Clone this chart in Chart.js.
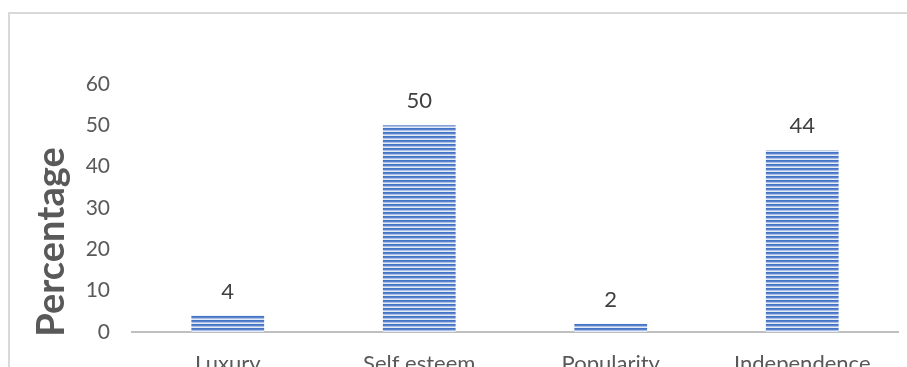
<!DOCTYPE html>
<html><head><meta charset="utf-8">
<script src="https://cdn.jsdelivr.net/npm/chart.js@4.4.1/dist/chart.umd.min.js"></script>
<style>
html,body{margin:0;padding:0;background:#fff;overflow:hidden;width:907px;height:367px;}
#frame{position:absolute;left:8px;top:12px;width:1000px;height:1000px;border:2px solid #d9d9d9;box-sizing:border-box;}
#wrap{position:absolute;left:0;top:0;width:907px;height:400px;}
</style></head>
<body>
<div id="frame"></div>
<div id="wrap"><canvas id="c" width="907" height="400"></canvas></div>
<script>
const categories = ["Luxury", "Self esteem", "Popularity", "Independence"];
const values = [4, 50, 2, 44];
const yTicks = [0, 10, 20, 30, 40, 50, 60];
const yTitle = "Percentage";

function makePattern() {
  const p = document.createElement('canvas');
  p.width = 8; p.height = 4;
  const g = p.getContext('2d');
  const rows = ['#4472C4', '#5b83cb', '#a9bfe6', '#e4ebf7'];
  rows.forEach((c, i) => { g.fillStyle = c; g.fillRect(0, i, 8, 1); });
  return g.createPattern(p, 'repeat');
}

const labelPlugin = {
  id: 'labels',
  afterDatasetsDraw(chart) {
    const ctx = chart.ctx;
    const meta = chart.getDatasetMeta(0);
    ctx.save();
    ctx.font = '22px Lato';
    ctx.fillStyle = '#404040';
    ctx.textAlign = 'center';
    ctx.textBaseline = 'bottom';
    meta.data.forEach((bar, i) => {
      ctx.fillText(String(values[i]), bar.x, bar.y - 13);
    });
    ctx.translate(64, 242);
    ctx.rotate(-Math.PI / 2);
    ctx.font = 'bold 38px Lato';
    ctx.fillStyle = '#595959';
    ctx.textBaseline = 'alphabetic';
    ctx.fillText(yTitle, 0, 0);
    ctx.restore();
  }
};

new Chart(document.getElementById('c'), {
  type: 'bar',
  data: {
    labels: categories,
    datasets: [{
      data: values,
      backgroundColor: makePattern(),
      borderWidth: 0,
      categoryPercentage: 1,
      barPercentage: 0.38
    }]
  },
  options: {
    responsive: false,
    animation: false,
    devicePixelRatio: 1,
    layout: { padding: { top: 84, right: 9, left: 0, bottom: 0 } },
    plugins: { legend: { display: false }, tooltip: { enabled: false } },
    scales: {
      x: {
        grid: { display: false, drawTicks: false },
        border: { display: true, color: '#bfbfbf', width: 2 },
        ticks: { font: { family: 'Lato', size: 22 }, color: '#595959', padding: 19, maxRotation: 0 },
        afterFit(s) { s.height = 68; }
      },
      y: {
        min: 0, max: 60,
        afterBuildTicks(s) { s.ticks = yTicks.map(v => ({ value: v })); },
        grid: { display: false, drawTicks: false },
        border: { display: false },
        ticks: { font: { family: 'Lato', size: 21 }, color: '#595959', padding: 22 },
        afterFit(s) { s.width = 132; }
      }
    }
  },
  plugins: [labelPlugin]
});
</script>
</body></html>
